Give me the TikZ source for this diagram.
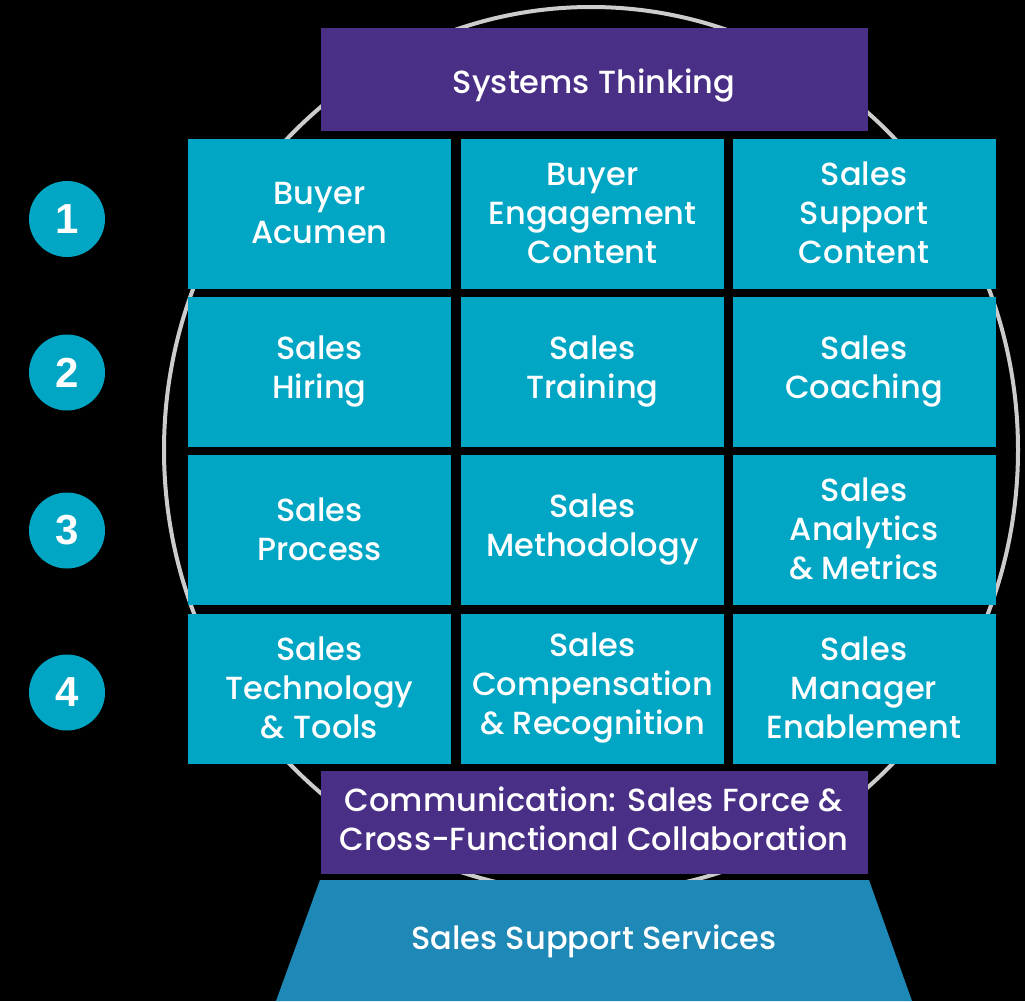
\documentclass[tikz,border=0pt]{standalone}
\usepackage{fontspec}
\setmainfont{Poppins}[UprightFont=* Medium]
\newfontfamily\numfont{Liberation Sans}
\usetikzlibrary{positioning}
\definecolor{cellteal}{HTML}{00A6C4}
\definecolor{barpurple}{HTML}{4A2F86}
\definecolor{baseblue}{HTML}{1E88B6}
\definecolor{ringgray}{HTML}{CCCCCC}
\tikzset{
  % struts of fixed total height, #1 sets how low the text sits
  lift/.style ={execute at begin node={\rule{0pt}{#1}},
                execute at end node={\rule[\dimexpr#1-39pt\relax]{0pt}{\dimexpr39pt-#1\relax}}},
  cell/.style ={fill=cellteal,text=white,align=center,inner sep=0pt,
                minimum width=263pt,minimum height=150pt,
                font=\fontsize{32}{39}\selectfont,lift=37pt},
  bar/.style  ={cell,fill=barpurple,minimum width=547pt,minimum height=103pt,lift=33pt},
  num/.style  ={circle,fill=cellteal,text=white,inner sep=0pt,minimum size=76pt,
                font=\numfont\bfseries\fontsize{42}{42}\selectfont},
  ring/.style ={draw=ringgray,line width=4pt},
  label/.style={text=white,align=center,inner sep=0pt,
                font=\fontsize{32}{39}\selectfont,lift=30pt},
}
\begin{document}
\begin{tikzpicture}[x=1pt,y=-1pt]
  % black page
  \fill[black] (0,0) rectangle (1025,1001);
  \useasboundingbox (0,0) rectangle (1025,1001);
  % outer ring behind everything
  \draw[ring] (591,450) ellipse [x radius=427, y radius=443];
  % top bar
  \node[bar,lift=31pt] (systems) at (594,79) {Systems Thinking};
  % grid, row by row
  \node[cell] (c11) at (319.5,214) {Buyer\\Acumen};
  \node[cell] (c12) at (592.5,214) {Buyer\\Engagement\\Content};
  \node[cell] (c13) at (864,214)   {Sales\\Support\\Content};
  \node[cell] (c21) at (319.5,372) {Sales\\Hiring};
  \node[cell] (c22) at (592.5,372) {Sales\\Training};
  \node[cell] (c23) at (864,372)   {Sales\\Coaching};
  \node[cell] (c31) at (319.5,530) {Sales\\Process};
  \node[cell] (c32) at (592.5,530) {Sales\\Methodology};
  \node[cell] (c33) at (864,530)   {Sales\\Analytics\\\& Metrics};
  \node[cell] (c41) at (319.5,688.5) {Sales\\Technology\\\& Tools};
  \node[cell] (c42) at (592.5,688.5) {Sales\\Compensation\\\& Recognition};
  \node[cell] (c43) at (864,688.5)   {Sales\\Manager\\Enablement};
  % row numbers
  \foreach \n/\y in {1/219,2/372.5,3/530.5,4/692.5}
    \node[num] (n\n) at (67,\y) {\n};
  % bottom bar
  \node[bar] (comm) at (594,822) {Communication: Sales Force \&\\Cross-Functional Collaboration};
  % base
  \fill[baseblue] (276,1001) -- (320,880) -- (869,880) -- (912,1001) -- cycle;
  \node[label] (services) at (594,939) {Sales Support Services};
\end{tikzpicture}
\end{document}
